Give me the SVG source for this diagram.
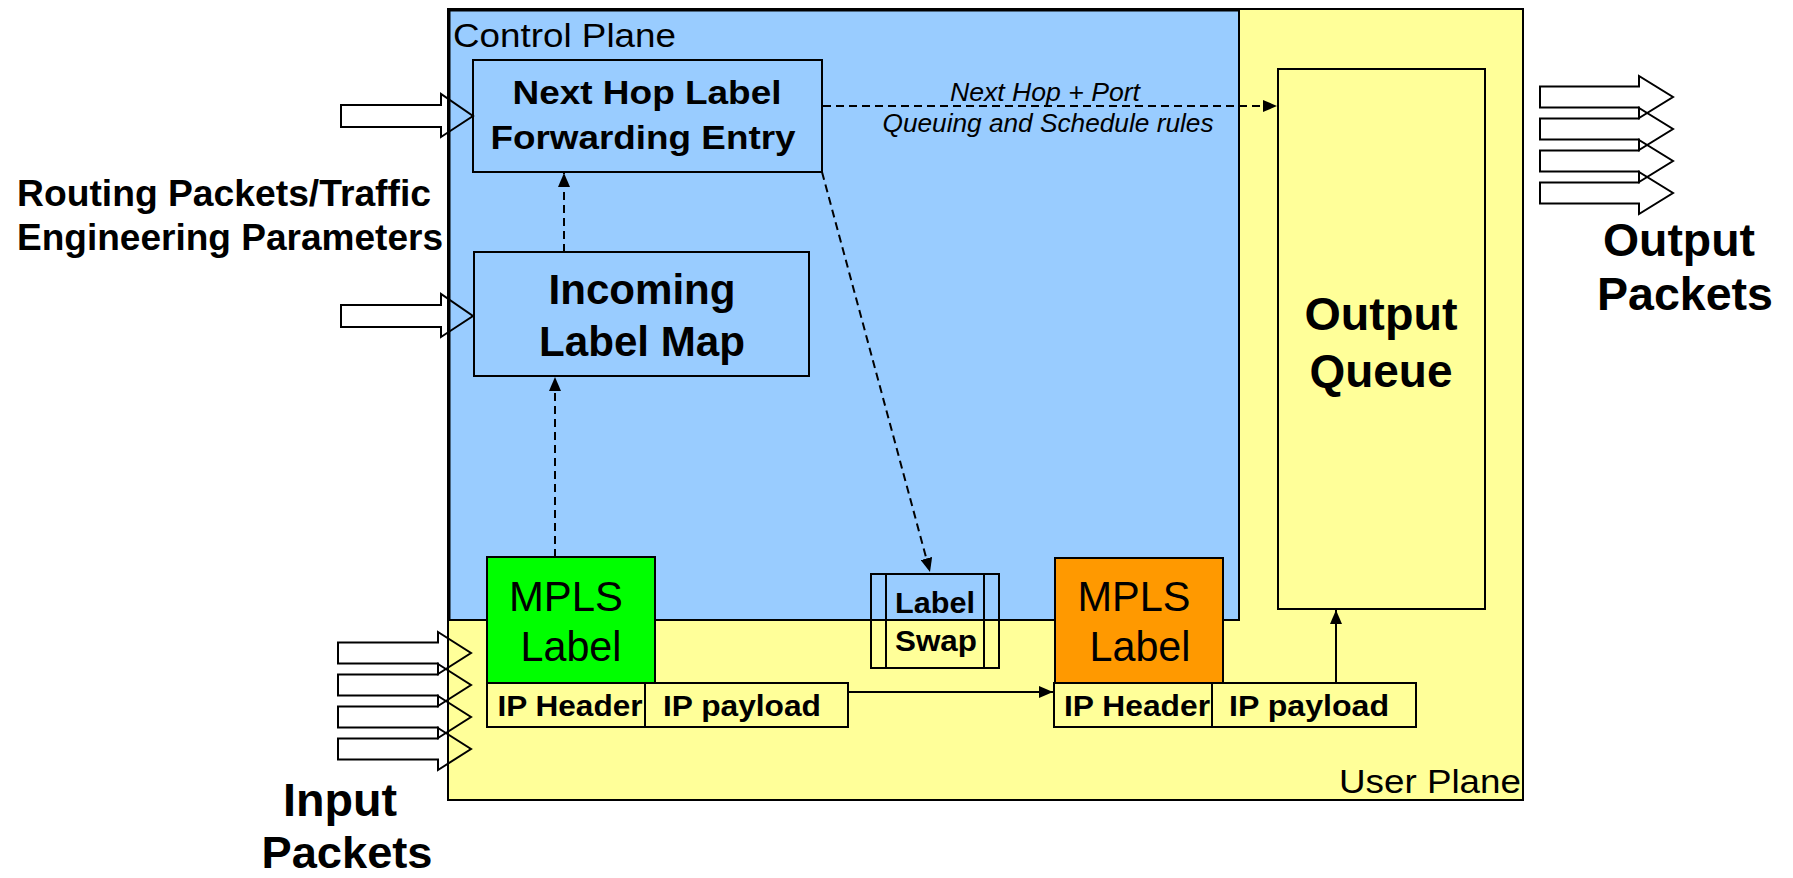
<svg xmlns="http://www.w3.org/2000/svg" width="1793" height="878" viewBox="0 0 1793 878">
<style>
text{font-family:"Liberation Sans",Arial,sans-serif;fill:#000}
.b{font-weight:bold}
.it{font-style:italic}
.box{stroke:#000;stroke-width:2}
.blk{fill:none;stroke:#000;stroke-width:2;stroke-linejoin:miter}
.dash{fill:none;stroke:#000;stroke-width:2;stroke-dasharray:8 5}
.sol{fill:none;stroke:#000;stroke-width:2}
</style>
<defs>
<marker id="ah" viewBox="0 0 14 12" refX="14" refY="6" markerWidth="14" markerHeight="12" markerUnits="userSpaceOnUse" orient="auto">
<path d="M0,0 L14,6 L0,12 Z" fill="#000"/>
</marker>
</defs>
<rect width="1793" height="878" fill="#fff"/>
<g id="user-plane">
<rect class="box" x="448" y="9" width="1075" height="791" fill="#FFFF99"/>
<text x="1521" y="793" font-size="34" text-anchor="end" textLength="182" lengthAdjust="spacingAndGlyphs">User Plane</text>
</g>
<g id="control-plane">
<rect x="448" y="9" width="791" height="611" fill="#99CCFF" stroke="#000" stroke-width="2"/>
<path d="M449,620 L449,10 L1239,10" fill="none" stroke="#000" stroke-width="3"/>
<text x="453" y="47" font-size="34" textLength="223" lengthAdjust="spacingAndGlyphs">Control Plane</text>
</g>
<g id="next-hop">
<rect class="box" x="473" y="60" width="349" height="112" fill="#99CCFF"/>
<text class="b" x="647" y="104" font-size="33" text-anchor="middle" textLength="269" lengthAdjust="spacingAndGlyphs">Next Hop Label</text>
<text class="b" x="643" y="149" font-size="33" text-anchor="middle" textLength="305" lengthAdjust="spacingAndGlyphs">Forwarding Entry</text>
</g>
<g id="incoming-label-map">
<rect class="box" x="474" y="252" width="335" height="124" fill="#99CCFF"/>
<text class="b" x="642" y="304" font-size="43" text-anchor="middle" textLength="187" lengthAdjust="spacingAndGlyphs">Incoming</text>
<text class="b" x="642" y="356" font-size="43" text-anchor="middle" textLength="206" lengthAdjust="spacingAndGlyphs">Label Map</text>
</g>
<g id="output-queue">
<rect class="box" x="1278" y="69" width="207" height="540" fill="#FFFF99"/>
<text class="b" x="1381" y="330" font-size="46" text-anchor="middle" textLength="153" lengthAdjust="spacingAndGlyphs">Output</text>
<text class="b" x="1381" y="387" font-size="46" text-anchor="middle" textLength="143" lengthAdjust="spacingAndGlyphs">Queue</text>
</g>
<g id="label-swap">
<rect class="box" x="871" y="574" width="128" height="94" fill="none"/>
<line class="sol" x1="886" y1="574" x2="886" y2="668"/>
<line class="sol" x1="984" y1="574" x2="984" y2="668"/>
<text class="b" x="935" y="613" font-size="29" text-anchor="middle" textLength="80" lengthAdjust="spacingAndGlyphs">Label</text>
<text class="b" x="936" y="651" font-size="29" text-anchor="middle" textLength="82" lengthAdjust="spacingAndGlyphs">Swap</text>
</g>
<g id="mpls-in">
<rect class="box" x="487" y="557" width="168" height="126" fill="#00FF00"/>
<text x="566" y="611" font-size="42" text-anchor="middle" textLength="114" lengthAdjust="spacingAndGlyphs">MPLS</text>
<text x="571" y="661" font-size="42" text-anchor="middle" textLength="101" lengthAdjust="spacingAndGlyphs">Label</text>
</g>
<g id="packet-in">
<rect class="box" x="487" y="683" width="361" height="44" fill="#FFFF99"/>
<line class="sol" x1="645" y1="683" x2="645" y2="727"/>
<text class="b" x="570" y="716" font-size="30" text-anchor="middle" textLength="145" lengthAdjust="spacingAndGlyphs">IP Header</text>
<text class="b" x="742" y="716" font-size="30" text-anchor="middle" textLength="158" lengthAdjust="spacingAndGlyphs">IP payload</text>
</g>
<g id="mpls-out">
<rect class="box" x="1055" y="558" width="168" height="125" fill="#FF9900"/>
<text x="1134" y="611" font-size="42" text-anchor="middle" textLength="113" lengthAdjust="spacingAndGlyphs">MPLS</text>
<text x="1140" y="661" font-size="42" text-anchor="middle" textLength="101" lengthAdjust="spacingAndGlyphs">Label</text>
</g>
<g id="packet-out">
<rect class="box" x="1054" y="683" width="362" height="44" fill="#FFFF99"/>
<line class="sol" x1="1212" y1="683" x2="1212" y2="727"/>
<text class="b" x="1137" y="716" font-size="30" text-anchor="middle" textLength="146" lengthAdjust="spacingAndGlyphs">IP Header</text>
<text class="b" x="1309" y="716" font-size="30" text-anchor="middle" textLength="160" lengthAdjust="spacingAndGlyphs">IP payload</text>
</g>
<g id="routing-input">
<path class="blk" d="M341,105 L441,105 L441,94 L473,116 L441,137 L441,127 L341,127 Z"/>
<path class="blk" d="M341,305 L441,305 L441,294 L473,316 L441,337 L441,327 L341,327 Z"/>
<text class="b" x="224" y="206" font-size="37" text-anchor="middle" textLength="414" lengthAdjust="spacingAndGlyphs">Routing Packets/Traffic</text>
<text class="b" x="230" y="250" font-size="37" text-anchor="middle" textLength="426" lengthAdjust="spacingAndGlyphs">Engineering Parameters</text>
</g>
<g id="input-packets">
<path class="blk" d="M338,642.5 L438,642.5 L438,632 L471,653 L438,674 L438,663.5 L338,663.5 Z"/>
<path class="blk" d="M338,674.5 L438,674.5 L438,664 L471,685 L438,706 L438,695.5 L338,695.5 Z"/>
<path class="blk" d="M338,706.5 L438,706.5 L438,696 L471,717 L438,738 L438,727.5 L338,727.5 Z"/>
<path class="blk" d="M338,738.5 L438,738.5 L438,728 L471,749 L438,770 L438,759.5 L338,759.5 Z"/>
<text class="b" x="340" y="816" font-size="46" text-anchor="middle" textLength="114" lengthAdjust="spacingAndGlyphs">Input</text>
<text class="b" x="347" y="868" font-size="45" text-anchor="middle" textLength="171" lengthAdjust="spacingAndGlyphs">Packets</text>
</g>
<g id="output-packets">
<path class="blk" d="M1540,86.5 L1639,86.5 L1639,76 L1673,97 L1639,118 L1639,107.5 L1540,107.5 Z"/>
<path class="blk" d="M1540,118.5 L1639,118.5 L1639,108 L1673,129 L1639,150 L1639,139.5 L1540,139.5 Z"/>
<path class="blk" d="M1540,150.5 L1639,150.5 L1639,140 L1673,161 L1639,182 L1639,171.5 L1540,171.5 Z"/>
<path class="blk" d="M1540,182.5 L1639,182.5 L1639,172 L1673,193 L1639,214 L1639,203.5 L1540,203.5 Z"/>
<text class="b" x="1679" y="256" font-size="47" text-anchor="middle" textLength="152" lengthAdjust="spacingAndGlyphs">Output</text>
<text class="b" x="1685" y="310" font-size="47" text-anchor="middle" textLength="176" lengthAdjust="spacingAndGlyphs">Packets</text>
</g>
<g id="connectors">
<line class="dash" x1="823" y1="106" x2="1277" y2="106" marker-end="url(#ah)"/>
<text class="it" x="1045" y="101" font-size="26" text-anchor="middle" textLength="190" lengthAdjust="spacingAndGlyphs">Next Hop + Port</text>
<text class="it" x="1048" y="132" font-size="26" text-anchor="middle" textLength="331" lengthAdjust="spacingAndGlyphs">Queuing and Schedule rules</text>
<line class="dash" x1="564" y1="252" x2="564" y2="173" marker-end="url(#ah)"/>
<line class="dash" x1="555" y1="557" x2="555" y2="377" marker-end="url(#ah)"/>
<line class="dash" x1="822" y1="172" x2="930" y2="572" marker-end="url(#ah)"/>
<line class="sol" x1="848" y1="692" x2="1053" y2="692" marker-end="url(#ah)"/>
<line class="sol" x1="1336" y1="683" x2="1336" y2="610" marker-end="url(#ah)"/>
</g>
</svg>
